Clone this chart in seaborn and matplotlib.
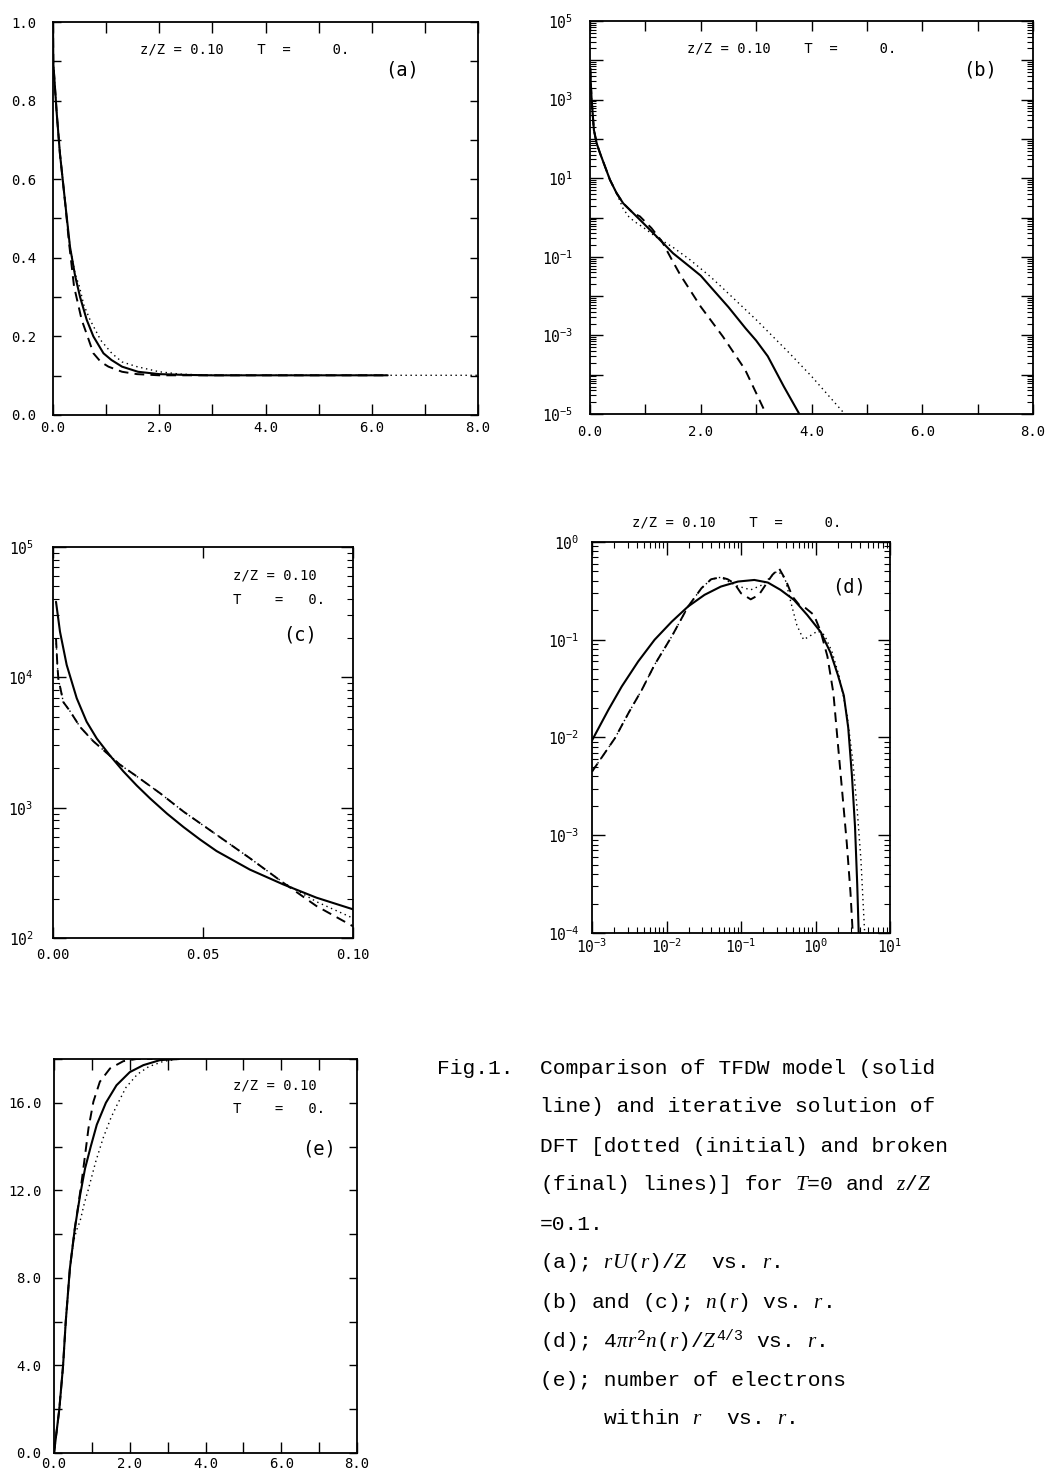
import numpy as np
import matplotlib
matplotlib.use("Agg")
import matplotlib.pyplot as plt
import seaborn as sns
from matplotlib.ticker import FixedLocator, FuncFormatter, LogLocator, NullFormatter, MultipleLocator

# ---------------- data ----------------
# (a) rU(r)/Z vs r
a_r_solid = [0, 0.006, 0.07, 0.13, 0.23, 0.32, 0.415, 0.51, 0.635, 0.76, 0.95, 1.1, 1.3, 1.6, 2.0, 2.5, 3.0, 4.0, 5.0, 6.3]
a_solid = [1.0, 0.895, 0.768, 0.666, 0.539, 0.428, 0.355, 0.30, 0.242, 0.2, 0.157, 0.14, 0.123, 0.11, 0.104, 0.102, 0.101, 0.101, 0.101, 0.101]
a_r_dash = [0, 0.006, 0.07, 0.13, 0.23, 0.30, 0.396, 0.54, 0.65, 0.761, 0.9, 1.044, 1.3, 1.58, 2.0, 2.5, 3.0, 6.3]
a_dash = [1.0, 0.895, 0.768, 0.666, 0.539, 0.44, 0.327, 0.242, 0.2, 0.157, 0.135, 0.123, 0.11, 0.104, 0.101, 0.101, 0.101, 0.101]
a_r_dot = [0, 0.006, 0.07, 0.13, 0.23, 0.32, 0.415, 0.497, 0.58, 0.698, 0.9, 1.107, 1.3, 1.58, 2.0, 2.4, 3.0, 4.0, 6.0, 8.0]
a_dot = [1.0, 0.895, 0.768, 0.666, 0.539, 0.428, 0.36, 0.327, 0.28, 0.242, 0.19, 0.157, 0.135, 0.123, 0.11, 0.104, 0.101, 0.101, 0.101, 0.101]

# (b) n(r) vs r
b_r_solid = [0.005, 0.015, 0.03, 0.07, 0.12, 0.18, 0.27, 0.36, 0.48, 0.6, 0.78, 0.96, 1.2, 1.5, 1.8, 2.0, 2.2, 2.5, 2.81, 3.0, 3.21, 3.5, 3.78]
b_solid = [6310, 2512, 977, 170, 77.6, 43.7, 20.0, 9.12, 4.17, 2.29, 1.29, 0.724, 0.331, 0.123, 0.0562,
           0.0331, 0.0158, 0.00525, 0.00151, 0.000741, 0.000295, 5.01e-5, 1e-5]
b_r_dash = [0.005, 0.015, 0.03, 0.07, 0.12, 0.18, 0.27, 0.36, 0.48, 0.6, 0.78, 0.9, 1.11, 1.3, 1.48, 1.63, 2.0, 2.4, 2.8, 3.18]
b_dash = [6310, 2512, 977, 170, 77.6, 43.7, 20.0, 9.12, 4.17, 2.29, 1.29, 1.07, 0.537, 0.245, 0.0832, 0.0347,
          0.00537, 0.000933, 0.000135, 1e-5]
b_r_dot = [0.005, 0.015, 0.03, 0.07, 0.12, 0.18, 0.27, 0.36, 0.48, 0.54, 0.6, 0.7, 0.8, 0.96, 1.2, 1.5, 1.81, 2.17, 2.4, 3.0, 3.6, 4.0, 4.6]
b_dot = [6310, 2512, 977, 170, 77.6, 43.7, 20.0, 9.12, 4.17, 2.63, 1.66, 1.05, 0.794, 0.562, 0.316, 0.174,
         0.0832, 0.0316, 0.0158, 0.00251, 0.000355, 9.12e-5, 1e-5]

# (c) n(r) vs r, inner region
c_r_solid = [0.001, 0.00233, 0.00456, 0.0079, 0.0112, 0.0146, 0.019, 0.0234, 0.0279, 0.0324, 0.038, 0.0435, 0.049, 0.0545, 0.0656, 0.0767, 0.0878, 0.1]
c_solid = [38000, 22400, 12450, 6920, 4570, 3390, 2510, 1905, 1480, 1175, 900, 710, 570, 465, 335, 258, 204, 166]
c_r_dash = [0.001, 0.00144, 0.00178, 0.00344, 0.00567, 0.009, 0.0134, 0.0179, 0.0223, 0.0279, 0.0357, 0.0435, 0.0545, 0.0656, 0.0767, 0.0878, 0.1]
c_dash = [19950, 12590, 9770, 6460, 5500, 4170, 3240, 2630, 2140, 1740, 1290, 933, 620, 410, 266, 176, 123]
c_r_dot = [0.001, 0.00144, 0.00178, 0.00344, 0.00567, 0.009, 0.0134, 0.0179, 0.0223, 0.0279, 0.0357, 0.0435, 0.0545, 0.0656, 0.0767, 0.0878, 0.1]
c_dot = [19950, 12590, 9770, 6460, 5500, 4170, 3240, 2630, 2140, 1740, 1290, 933, 620, 410, 267, 190, 142]

# (d) 4 pi r^2 n(r) / Z^(4/3) vs r
d_r_solid = [0.001, 0.00166, 0.00251, 0.00417, 0.00692, 0.01175, 0.0195, 0.0324, 0.0537, 0.0912, 0.151, 0.229,
             0.339, 0.513, 0.776, 1.175, 1.585, 1.995, 2.40, 2.75, 3.09, 3.39, 3.63, 3.80]
d_solid = [0.00933, 0.0192, 0.0333, 0.060, 0.100, 0.153, 0.219, 0.288, 0.350, 0.394, 0.409, 0.385,
           0.324, 0.256, 0.179, 0.120, 0.0741, 0.0437, 0.0269, 0.0126, 0.00398, 0.00123, 0.000316, 0.0001]
d_r_dash = [0.001, 0.00204, 0.00309, 0.00468, 0.00692, 0.01175, 0.0195, 0.0295, 0.0398, 0.0537, 0.0661, 0.0813,
            0.1, 0.135, 0.174, 0.229, 0.263, 0.324, 0.398, 0.490, 0.603, 0.741, 0.955, 1.175, 1.445, 1.738,
            1.995, 2.29, 2.63, 2.95, 3.16]
d_dash = [0.00447, 0.00989, 0.0178, 0.0309, 0.0555, 0.108, 0.219, 0.337, 0.416, 0.436, 0.416, 0.378,
          0.299, 0.259, 0.288, 0.394, 0.460, 0.538, 0.409, 0.277, 0.228, 0.210, 0.179, 0.121, 0.0676, 0.0285,
          0.00871, 0.00271, 0.000832, 0.000257, 0.0001]
d_r_dot = [0.001, 0.00204, 0.00309, 0.00468, 0.00692, 0.01175, 0.0195, 0.0295, 0.0398, 0.0537, 0.0661, 0.0891,
           0.135, 0.191, 0.240, 0.302, 0.355, 0.398, 0.468, 0.562, 0.692, 0.851, 1.072, 1.318, 1.660, 2.089,
           2.63, 3.16, 3.63, 4.07, 4.57]
d_dot = [0.00447, 0.00989, 0.0178, 0.0309, 0.0555, 0.108, 0.219, 0.337, 0.416, 0.436, 0.398, 0.355,
         0.324, 0.363, 0.427, 0.501, 0.468, 0.398, 0.240, 0.141, 0.100, 0.110, 0.123, 0.112, 0.0759, 0.0417,
         0.0178, 0.00589, 0.00182, 0.000562, 0.0001]

# (e) number of electrons within r vs r
e_r_solid = [0, 0.14, 0.24, 0.31, 0.42, 0.55, 0.69, 0.82, 0.97, 1.13, 1.37, 1.65, 2.0, 2.36, 2.8, 3.3]
e_solid = [0, 2, 4, 6, 8.44, 10.26, 11.79, 13.0, 14.0, 15.0, 16.0, 16.8, 17.4, 17.72, 17.95, 18.0]
e_r_dash = [0, 0.14, 0.24, 0.31, 0.42, 0.55, 0.64, 0.73, 0.82, 0.91, 1.04, 1.21, 1.48, 1.83, 2.18, 2.6]
e_dash = [0, 2, 4, 6, 8.44, 10.26, 11.3, 12.4, 13.6, 14.83, 16.05, 16.96, 17.57, 17.9, 18.0, 18.0]
e_r_dot = [0, 0.14, 0.24, 0.31, 0.42, 0.52, 0.6, 0.69, 0.8, 0.9, 1.1, 1.3, 1.5, 1.65, 1.9, 2.2, 2.5, 2.9, 3.3]
e_dot = [0, 2, 4, 6, 8.44, 9.7, 10.2, 10.6, 11.4, 12.0, 13.3, 14.4, 15.3, 15.85, 16.7, 17.3, 17.65, 17.9, 18.0]

info_line = "z/Z = 0.10    T  =     0."
info_1 = "z/Z = 0.10"
info_2 = "T    =   0."

caption_lines = [
    "Comparison of TFDW model (solid",
    "line) and iterative solution of",
    "DFT [dotted (initial) and broken",
    "(final) lines)] for $T$=0 and $z$/$Z$",
    "=0.1.",
    "(a); $rU$($r$)/$Z$  vs. $r$.",
    "(b) and (c); $n$($r$) vs. $r$.",
    "(d); 4$\\pi r^{2}n$($r$)/$Z^{4/3}$ vs. $r$.",
    "(e); number of electrons",
]
caption_last = "within $r$  vs. $r$."

# ---------------- style ----------------
sns.set_theme(style="ticks")
plt.rcParams["font.family"] = ["DejaVu Sans Mono", "DejaVu Sans"]
plt.rcParams.update({
    "mathtext.fontset": "custom",
    "mathtext.rm": "Liberation Mono",
    "mathtext.tt": "Liberation Mono",
    "mathtext.it": "Liberation Serif:italic",
    "mathtext.sf": "Liberation Sans",
    "axes.edgecolor": "black",
    "axes.linewidth": 1.3,
    "xtick.color": "black",
    "ytick.color": "black",
    "text.color": "black",
})

W, H = 1063, 1473
fig = plt.figure(figsize=(W / 100, H / 100), dpi=100)
fig.patch.set_facecolor("white")


def add_axes(x0, y0, x1, y1):
    return fig.add_axes([x0 / W, 1 - y1 / H, (x1 - x0) / W, (y1 - y0) / H])


SOLID = dict(color="black", linewidth=1.5, linestyle="-")
DASH = dict(color="black", linewidth=1.4, linestyle=(0, (5, 3.2)))
DOT = dict(color="black", linewidth=1.0, linestyle=(0, (1, 2.6)))


def draw(ax, x, y, st):
    sns.lineplot(x=x, y=y, ax=ax, estimator=None, sort=False, legend=False, **st)


def base_style(ax, xpad=4, ypad=10, size=10):
    ax.set_facecolor("white")
    for s in ax.spines.values():
        s.set_visible(True)
        s.set_color("black")
        s.set_linewidth(1.3)
    ax.tick_params(which="both", direction="in", top=True, right=True,
                   width=1.0, labelsize=size)
    ax.tick_params(axis="x", pad=xpad)
    ax.tick_params(axis="y", pad=ypad)
    ax.set_xlabel("")
    ax.set_ylabel("")


def logfmt(odd_only=False):
    def f(v, p):
        k = int(round(np.log10(v)))
        if odd_only and k % 2 == 0:
            return ""
        return r"$\mathregular{10^{%d}}$" % k
    return FuncFormatter(f)


def fixed_fmt(fmt):
    return FuncFormatter(lambda v, p: fmt % v)


# ---------------- (a) ----------------
ax = add_axes(53, 22, 478, 415)
draw(ax, a_r_dot, a_dot, DOT)
draw(ax, a_r_dash, a_dash, DASH)
draw(ax, a_r_solid, a_solid, SOLID)
base_style(ax, xpad=4, ypad=12)
ax.set_xlim(0, 8)
ax.set_ylim(0, 1)
ax.xaxis.set_major_locator(FixedLocator([0, 2, 4, 6, 8]))
ax.xaxis.set_minor_locator(MultipleLocator(1))
ax.xaxis.set_major_formatter(fixed_fmt("%.1f"))
ax.yaxis.set_major_locator(FixedLocator([0, 0.2, 0.4, 0.6, 0.8, 1.0]))
ax.yaxis.set_minor_locator(MultipleLocator(0.1))
ax.yaxis.set_major_formatter(fixed_fmt("%.1f"))
ax.tick_params(axis="x", which="both", length=8)
ax.tick_params(axis="y", which="both", length=6)
ax.text(0.205, 0.931, info_line, transform=ax.transAxes, ha="left", va="center", fontsize=10)
ax.text(0.782, 0.878, "(a)", transform=ax.transAxes, ha="left", va="center", fontsize=13.5)

# ---------------- (b) ----------------
ax = add_axes(590, 21, 1033, 414)
draw(ax, b_r_dot, b_dot, DOT)
draw(ax, b_r_dash, b_dash, DASH)
draw(ax, b_r_solid, b_solid, SOLID)
ax.set_yscale("log")
base_style(ax, xpad=8, ypad=12, size=10.5)
ax.set_xlim(0, 8)
ax.set_ylim(1e-5, 1e5)
ax.xaxis.set_major_locator(FixedLocator([0, 2, 4, 6, 8]))
ax.xaxis.set_minor_locator(MultipleLocator(1))
ax.xaxis.set_major_formatter(fixed_fmt("%.1f"))
ax.tick_params(axis="x", which="both", length=7, labelsize=10)
ax.yaxis.set_major_locator(FixedLocator([10.0 ** k for k in range(-5, 6)]))
ax.yaxis.set_major_formatter(logfmt(odd_only=True))
ax.yaxis.set_minor_locator(LogLocator(base=10, subs=np.arange(2, 10), numticks=50))
ax.yaxis.set_minor_formatter(NullFormatter())
ax.tick_params(axis="y", which="major", length=9)
ax.tick_params(axis="y", which="minor", length=4.5, width=0.8)
ax.text(0.219, 0.931, info_line, transform=ax.transAxes, ha="left", va="center", fontsize=10)
ax.text(0.842, 0.875, "(b)", transform=ax.transAxes, ha="left", va="center", fontsize=13.5)

# ---------------- (c) ----------------
ax = add_axes(53, 547, 353, 938)
draw(ax, c_r_dot, c_dot, DOT)
draw(ax, c_r_dash, c_dash, DASH)
draw(ax, c_r_solid, c_solid, SOLID)
ax.set_yscale("log")
base_style(ax, xpad=7, ypad=14, size=10.5)
ax.set_xlim(0, 0.1)
ax.set_ylim(1e2, 1e5)
ax.xaxis.set_major_locator(FixedLocator([0, 0.05, 0.1]))
ax.xaxis.set_major_formatter(fixed_fmt("%.2f"))
ax.tick_params(axis="x", which="major", length=8, labelsize=10)
ax.yaxis.set_major_locator(FixedLocator([1e2, 1e3, 1e4, 1e5]))
ax.yaxis.set_major_formatter(logfmt())
ax.yaxis.set_minor_locator(LogLocator(base=10, subs=np.arange(2, 10), numticks=50))
ax.yaxis.set_minor_formatter(NullFormatter())
ax.tick_params(axis="y", which="major", length=9)
ax.tick_params(axis="y", which="minor", length=4.5, width=0.8)
ax.text(0.60, 0.928, info_1, transform=ax.transAxes, ha="left", va="center", fontsize=10)
ax.text(0.60, 0.864, info_2, transform=ax.transAxes, ha="left", va="center", fontsize=10)
ax.text(0.767, 0.775, "(c)", transform=ax.transAxes, ha="left", va="center", fontsize=13.5)

# ---------------- (d) ----------------
ax = add_axes(592, 542, 890, 933)
draw(ax, d_r_dot, d_dot, DOT)
draw(ax, d_r_dash, d_dash, DASH)
draw(ax, d_r_solid, d_solid, SOLID)
ax.set_xscale("log")
ax.set_yscale("log")
base_style(ax, xpad=3, ypad=9, size=10.5)
ax.set_xlim(1e-3, 1e1)
ax.set_ylim(1e-4, 1e0)
for axis in (ax.xaxis, ax.yaxis):
    axis.set_minor_locator(LogLocator(base=10, subs=np.arange(2, 10), numticks=50))
    axis.set_minor_formatter(NullFormatter())
ax.xaxis.set_major_locator(FixedLocator([1e-3, 1e-2, 1e-1, 1e0, 1e1]))
ax.yaxis.set_major_locator(FixedLocator([1e-4, 1e-3, 1e-2, 1e-1, 1e0]))
ax.xaxis.set_major_formatter(logfmt())
ax.yaxis.set_major_formatter(logfmt())
ax.tick_params(which="major", length=9)
ax.tick_params(which="minor", length=4.5, width=0.8)
ax.text(0.134, 1.051, info_line, transform=ax.transAxes, ha="left", va="center", fontsize=10)
ax.text(0.805, 0.885, "(d)", transform=ax.transAxes, ha="left", va="center", fontsize=13.5)

# ---------------- (e) ----------------
ax = add_axes(54, 1059, 357, 1453)
draw(ax, e_r_dot, e_dot, DOT)
draw(ax, e_r_dash, e_dash, DASH)
draw(ax, e_r_solid, e_solid, SOLID)
base_style(ax, xpad=3, ypad=9)
ax.set_xlim(0, 8)
ax.set_ylim(0, 18)
ax.xaxis.set_major_locator(FixedLocator([0, 2, 4, 6, 8]))
ax.xaxis.set_minor_locator(MultipleLocator(1))
ax.xaxis.set_major_formatter(fixed_fmt("%.1f"))
ax.yaxis.set_major_locator(FixedLocator([0, 4, 8, 12, 16]))
ax.yaxis.set_minor_locator(MultipleLocator(2))
ax.yaxis.set_major_formatter(fixed_fmt("%.1f"))
ax.tick_params(axis="x", which="both", length=8)
ax.tick_params(axis="y", which="both", length=6)
ax.text(0.59, 0.934, info_1, transform=ax.transAxes, ha="left", va="center", fontsize=10)
ax.text(0.59, 0.873, info_2, transform=ax.transAxes, ha="left", va="center", fontsize=10)
ax.text(0.82, 0.772, "(e)", transform=ax.transAxes, ha="left", va="center", fontsize=13.5)

# ---------------- caption ----------------
cap_font = dict(family=["Liberation Mono", "DejaVu Sans Mono"], fontsize=15.3, va="center", ha="left")
fig.text(437 / W, 1 - 1068 / H, "Fig.1.", **cap_font)
ys = [1068, 1107, 1146, 1185, 1224, 1263, 1302, 1341, 1380]
for yy, line in zip(ys, caption_lines):
    fig.text(540 / W, 1 - yy / H, line, **cap_font)
fig.text(603 / W, 1 - 1419 / H, caption_last, **cap_font)

fig.savefig("out.png", dpi=100, facecolor="white")
